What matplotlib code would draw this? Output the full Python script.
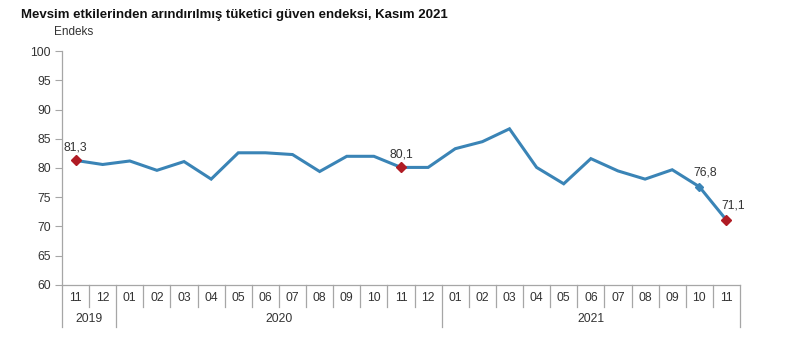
import matplotlib
matplotlib.use("Agg")
import matplotlib.pyplot as plt
from matplotlib.transforms import blended_transform_factory

plt.rcParams['font.family'] = ['Liberation Sans', 'DejaVu Sans']

title = "Mevsim etkilerinden arındırılmış tüketici güven endeksi, Kasım 2021"
ylabel = "Endeks"
months = ["11", "12", "01", "02", "03", "04", "05", "06", "07", "08", "09", "10", "11", "12",
          "01", "02", "03", "04", "05", "06", "07", "08", "09", "10", "11"]
years = ["2019", "2020", "2021"]
year_counts = [2, 12, 11]
values = [81.3, 80.6, 81.2, 79.6, 81.1, 78.1, 82.6, 82.6, 82.3, 79.4, 82.0, 82.0, 80.1, 80.1,
          83.3, 84.5, 86.7, 80.1, 77.3, 81.6, 79.5, 78.1, 79.7, 76.8, 71.1]
red_idx = [0, 12, 24]
blue_idx = [23]
yticks = [60, 65, 70, 75, 80, 85, 90, 95, 100]

W, H = 799, 361
fig = plt.figure(figsize=(W / 100, H / 100), dpi=100)
L, R, T, B = 62, 740, 51, 285
ax = fig.add_axes([L / W, 1 - B / H, (R - L) / W, (B - T) / H])

line_c = '#3a84b6'
red_c = '#b01c24'
axis_c = '#a6a6a6'
txt_c = '#333333'
fs = 8.7

x = list(range(len(values)))
ax.plot(x, values, color=line_c, lw=2.2, solid_joinstyle='miter', zorder=3)
ax.plot([x[i] for i in red_idx], [values[i] for i in red_idx], ls='none', marker='D',
        ms=5, color=red_c, zorder=4)
ax.plot([x[i] for i in blue_idx], [values[i] for i in blue_idx], ls='none', marker='D',
        ms=4.5, color=line_c, zorder=4)

def fmt(v):
    return f"{v:.1f}".replace('.', ',')

offsets = {0: (0, 5), 12: (0, 5), 23: (4, 6), 24: (5, 6)}
for i, (dx, dy) in offsets.items():
    ax.annotate(fmt(values[i]), (x[i], values[i]), xytext=(dx, dy), textcoords='offset points',
                ha='center', va='bottom', fontsize=fs, color=txt_c)

ax.set_xlim(-0.5, len(values) - 0.5)
ax.set_ylim(60, 100)
ax.set_yticks(yticks)
ax.set_yticklabels([str(t) for t in yticks], fontsize=fs, color=txt_c)
ax.tick_params(axis='y', length=5, width=0.8, color=axis_c, pad=3)
ax.set_xticks([])
for s in ['top', 'right']:
    ax.spines[s].set_visible(False)
for s in ['left', 'bottom']:
    ax.spines[s].set_color(axis_c)
    ax.spines[s].set_linewidth(0.9)

trans = blended_transform_factory(ax.transData, ax.transAxes)
ah = B - T
short = -22 / ah
long_ = -42 / ah
year_bounds = [0]
for c in year_counts:
    year_bounds.append(year_bounds[-1] + c)
for k in range(len(values) + 1):
    y1 = long_ if k in year_bounds else short
    ax.plot([k - 0.5, k - 0.5], [0, y1], transform=trans, color=axis_c, lw=0.9,
            clip_on=False)
for i, m in enumerate(months):
    ax.text(i, -13 / ah, m, transform=trans, ha='center', va='center', fontsize=fs,
            color=txt_c)
for j, yname in enumerate(years):
    cx = (year_bounds[j] + year_bounds[j + 1]) / 2 - 0.5
    ax.text(cx, -34 / ah, yname, transform=trans, ha='center', va='center', fontsize=fs,
            color=txt_c)

fig.text(21 / W, 1 - 15 / H, title, fontsize=9.5, fontweight='bold', color='#111111',
         ha='left', va='center')
fig.text(74 / W, 1 - 32 / H, ylabel, fontsize=8.5, color=txt_c, ha='center', va='center')

fig.savefig('out.png', dpi=100)
